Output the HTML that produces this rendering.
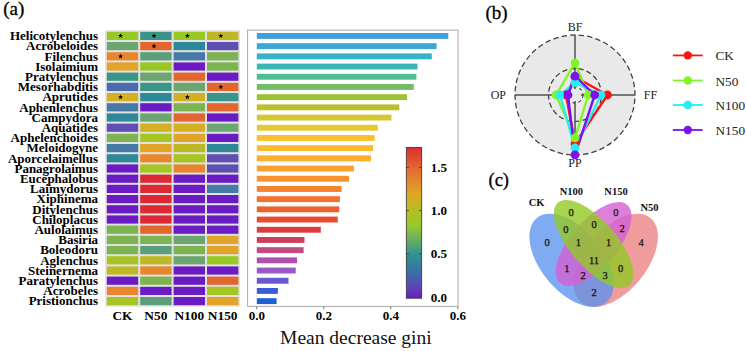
<!DOCTYPE html><html><head><meta charset="utf-8"><style>html,body{margin:0;padding:0;background:#fff;width:746px;height:351px;overflow:hidden}svg{display:block}text{font-family:"Liberation Serif",serif;}</style></head><body>
<svg width="746" height="351" viewBox="0 0 746 351">
<text x="3.2" y="15" font-size="19" fill="#000" stroke="#000" stroke-width="0.3">(a)</text>
<text x="485.4" y="18.5" font-size="19" fill="#000" stroke="#000" stroke-width="0.3">(b)</text>
<text x="488.5" y="186" font-size="18.5" fill="#000" stroke="#000" stroke-width="0.3">(c)</text>
<rect x="105.2" y="30.2" width="134.8" height="276.6" fill="#e2e2e2"/>
<rect x="106.80" y="31.80" width="31.4" height="8.2" fill="#98c822"/>
<polygon points="120.60,33.30 121.25,35.01 123.07,35.10 121.65,36.24 122.13,38.00 120.60,37.00 119.07,38.00 119.55,36.24 118.13,35.10 119.95,35.01" fill="#000"/>
<rect x="140.20" y="31.80" width="31.4" height="8.2" fill="#3a9488"/>
<polygon points="154.00,33.30 154.65,35.01 156.47,35.10 155.05,36.24 155.53,38.00 154.00,37.00 152.47,38.00 152.95,36.24 151.53,35.10 153.35,35.01" fill="#000"/>
<rect x="173.60" y="31.80" width="31.4" height="8.2" fill="#98c822"/>
<polygon points="187.40,33.30 188.05,35.01 189.87,35.10 188.45,36.24 188.93,38.00 187.40,37.00 185.87,38.00 186.35,36.24 184.93,35.10 186.75,35.01" fill="#000"/>
<rect x="207.00" y="31.80" width="31.4" height="8.2" fill="#beb824"/>
<polygon points="220.80,33.30 221.45,35.01 223.27,35.10 221.85,36.24 222.33,38.00 220.80,37.00 219.27,38.00 219.75,36.24 218.33,35.10 220.15,35.01" fill="#000"/>
<text x="98" y="40.10" font-size="13" font-weight="bold" text-anchor="end" fill="#000">Helicotylenchus</text>
<rect x="106.80" y="42.00" width="31.4" height="8.2" fill="#6ca66e"/>
<rect x="140.20" y="42.00" width="31.4" height="8.2" fill="#e2662e"/>
<polygon points="154.00,43.50 154.65,45.21 156.47,45.30 155.05,46.44 155.53,48.20 154.00,47.20 152.47,48.20 152.95,46.44 151.53,45.30 153.35,45.21" fill="#000"/>
<rect x="173.60" y="42.00" width="31.4" height="8.2" fill="#2f889a"/>
<rect x="207.00" y="42.00" width="31.4" height="8.2" fill="#5e50b2"/>
<text x="98" y="50.30" font-size="13" font-weight="bold" text-anchor="end" fill="#000">Acrobeloides</text>
<rect x="106.80" y="52.20" width="31.4" height="8.2" fill="#e8862e"/>
<polygon points="120.60,53.70 121.25,55.41 123.07,55.50 121.65,56.64 122.13,58.40 120.60,57.40 119.07,58.40 119.55,56.64 118.13,55.50 119.95,55.41" fill="#000"/>
<rect x="140.20" y="52.20" width="31.4" height="8.2" fill="#5a9e7a"/>
<rect x="173.60" y="52.20" width="31.4" height="8.2" fill="#4679a6"/>
<rect x="207.00" y="52.20" width="31.4" height="8.2" fill="#7cb452"/>
<text x="98" y="60.50" font-size="13" font-weight="bold" text-anchor="end" fill="#000">Filenchus</text>
<rect x="106.80" y="62.40" width="31.4" height="8.2" fill="#e2a426"/>
<rect x="140.20" y="62.40" width="31.4" height="8.2" fill="#98c822"/>
<rect x="173.60" y="62.40" width="31.4" height="8.2" fill="#6a1bc4"/>
<rect x="207.00" y="62.40" width="31.4" height="8.2" fill="#7cb452"/>
<text x="98" y="70.70" font-size="13" font-weight="bold" text-anchor="end" fill="#000">Isolaimium</text>
<rect x="106.80" y="72.60" width="31.4" height="8.2" fill="#3a9488"/>
<rect x="140.20" y="72.60" width="31.4" height="8.2" fill="#6ca66e"/>
<rect x="173.60" y="72.60" width="31.4" height="8.2" fill="#e2662e"/>
<rect x="207.00" y="72.60" width="31.4" height="8.2" fill="#6a1bc4"/>
<text x="98" y="80.90" font-size="13" font-weight="bold" text-anchor="end" fill="#000">Pratylenchus</text>
<rect x="106.80" y="82.80" width="31.4" height="8.2" fill="#4a6aae"/>
<rect x="140.20" y="82.80" width="31.4" height="8.2" fill="#3a9488"/>
<rect x="173.60" y="82.80" width="31.4" height="8.2" fill="#6ca66e"/>
<rect x="207.00" y="82.80" width="31.4" height="8.2" fill="#e2662e"/>
<polygon points="220.80,84.30 221.45,86.01 223.27,86.10 221.85,87.24 222.33,89.00 220.80,88.00 219.27,89.00 219.75,87.24 218.33,86.10 220.15,86.01" fill="#000"/>
<text x="98" y="91.10" font-size="13" font-weight="bold" text-anchor="end" fill="#000">Mesorhabditis</text>
<rect x="106.80" y="93.00" width="31.4" height="8.2" fill="#d2b022"/>
<polygon points="120.60,94.50 121.25,96.21 123.07,96.30 121.65,97.44 122.13,99.20 120.60,98.20 119.07,99.20 119.55,97.44 118.13,96.30 119.95,96.21" fill="#000"/>
<rect x="140.20" y="93.00" width="31.4" height="8.2" fill="#2f889a"/>
<rect x="173.60" y="93.00" width="31.4" height="8.2" fill="#d2b022"/>
<polygon points="187.40,94.50 188.05,96.21 189.87,96.30 188.45,97.44 188.93,99.20 187.40,98.20 185.87,99.20 186.35,97.44 184.93,96.30 186.75,96.21" fill="#000"/>
<rect x="207.00" y="93.00" width="31.4" height="8.2" fill="#3a9488"/>
<text x="98" y="101.30" font-size="13" font-weight="bold" text-anchor="end" fill="#000">Aprutides</text>
<rect x="106.80" y="103.20" width="31.4" height="8.2" fill="#4679a6"/>
<rect x="140.20" y="103.20" width="31.4" height="8.2" fill="#6a1bc4"/>
<rect x="173.60" y="103.20" width="31.4" height="8.2" fill="#7cb452"/>
<rect x="207.00" y="103.20" width="31.4" height="8.2" fill="#e2662e"/>
<text x="98" y="111.50" font-size="13" font-weight="bold" text-anchor="end" fill="#000">Aphenlenchus</text>
<rect x="106.80" y="113.40" width="31.4" height="8.2" fill="#2f889a"/>
<rect x="140.20" y="113.40" width="31.4" height="8.2" fill="#6ca66e"/>
<rect x="173.60" y="113.40" width="31.4" height="8.2" fill="#e2662e"/>
<rect x="207.00" y="113.40" width="31.4" height="8.2" fill="#6a1bc4"/>
<text x="98" y="121.70" font-size="13" font-weight="bold" text-anchor="end" fill="#000">Campydora</text>
<rect x="106.80" y="123.60" width="31.4" height="8.2" fill="#5e50b2"/>
<rect x="140.20" y="123.60" width="31.4" height="8.2" fill="#d2b022"/>
<rect x="173.60" y="123.60" width="31.4" height="8.2" fill="#d2b022"/>
<rect x="207.00" y="123.60" width="31.4" height="8.2" fill="#6ca66e"/>
<text x="98" y="131.90" font-size="13" font-weight="bold" text-anchor="end" fill="#000">Aquatides</text>
<rect x="106.80" y="133.80" width="31.4" height="8.2" fill="#7cb452"/>
<rect x="140.20" y="133.80" width="31.4" height="8.2" fill="#a6c422"/>
<rect x="173.60" y="133.80" width="31.4" height="8.2" fill="#e2a426"/>
<rect x="207.00" y="133.80" width="31.4" height="8.2" fill="#6a1bc4"/>
<text x="98" y="142.10" font-size="13" font-weight="bold" text-anchor="end" fill="#000">Aphelenchoides</text>
<rect x="106.80" y="144.00" width="31.4" height="8.2" fill="#4679a6"/>
<rect x="140.20" y="144.00" width="31.4" height="8.2" fill="#e2a426"/>
<rect x="173.60" y="144.00" width="31.4" height="8.2" fill="#beb824"/>
<rect x="207.00" y="144.00" width="31.4" height="8.2" fill="#2f889a"/>
<text x="98" y="152.30" font-size="13" font-weight="bold" text-anchor="end" fill="#000">Meloidogyne</text>
<rect x="106.80" y="154.20" width="31.4" height="8.2" fill="#2f889a"/>
<rect x="140.20" y="154.20" width="31.4" height="8.2" fill="#e8862e"/>
<rect x="173.60" y="154.20" width="31.4" height="8.2" fill="#a6c422"/>
<rect x="207.00" y="154.20" width="31.4" height="8.2" fill="#5e50b2"/>
<text x="98" y="162.50" font-size="13" font-weight="bold" text-anchor="end" fill="#000">Aporcelaimellus</text>
<rect x="106.80" y="164.40" width="31.4" height="8.2" fill="#6a1bc4"/>
<rect x="140.20" y="164.40" width="31.4" height="8.2" fill="#a6c422"/>
<rect x="173.60" y="164.40" width="31.4" height="8.2" fill="#e8862e"/>
<rect x="207.00" y="164.40" width="31.4" height="8.2" fill="#5e50b2"/>
<text x="98" y="172.70" font-size="13" font-weight="bold" text-anchor="end" fill="#000">Panagrolaimus</text>
<rect x="106.80" y="174.60" width="31.4" height="8.2" fill="#6a1bc4"/>
<rect x="140.20" y="174.60" width="31.4" height="8.2" fill="#de2834"/>
<rect x="173.60" y="174.60" width="31.4" height="8.2" fill="#6a1bc4"/>
<rect x="207.00" y="174.60" width="31.4" height="8.2" fill="#6a1bc4"/>
<text x="98" y="182.90" font-size="13" font-weight="bold" text-anchor="end" fill="#000">Eucephalobus</text>
<rect x="106.80" y="184.80" width="31.4" height="8.2" fill="#6a1bc4"/>
<rect x="140.20" y="184.80" width="31.4" height="8.2" fill="#de2834"/>
<rect x="173.60" y="184.80" width="31.4" height="8.2" fill="#6a1bc4"/>
<rect x="207.00" y="184.80" width="31.4" height="8.2" fill="#4679a6"/>
<text x="98" y="193.10" font-size="13" font-weight="bold" text-anchor="end" fill="#000">Laimydorus</text>
<rect x="106.80" y="195.00" width="31.4" height="8.2" fill="#6a1bc4"/>
<rect x="140.20" y="195.00" width="31.4" height="8.2" fill="#de2834"/>
<rect x="173.60" y="195.00" width="31.4" height="8.2" fill="#6a1bc4"/>
<rect x="207.00" y="195.00" width="31.4" height="8.2" fill="#6a1bc4"/>
<text x="98" y="203.30" font-size="13" font-weight="bold" text-anchor="end" fill="#000">Xiphinema</text>
<rect x="106.80" y="205.20" width="31.4" height="8.2" fill="#6a1bc4"/>
<rect x="140.20" y="205.20" width="31.4" height="8.2" fill="#de2834"/>
<rect x="173.60" y="205.20" width="31.4" height="8.2" fill="#6a1bc4"/>
<rect x="207.00" y="205.20" width="31.4" height="8.2" fill="#6a1bc4"/>
<text x="98" y="213.50" font-size="13" font-weight="bold" text-anchor="end" fill="#000">Ditylenchus</text>
<rect x="106.80" y="215.40" width="31.4" height="8.2" fill="#6a1bc4"/>
<rect x="140.20" y="215.40" width="31.4" height="8.2" fill="#de2834"/>
<rect x="173.60" y="215.40" width="31.4" height="8.2" fill="#6a1bc4"/>
<rect x="207.00" y="215.40" width="31.4" height="8.2" fill="#6a1bc4"/>
<text x="98" y="223.70" font-size="13" font-weight="bold" text-anchor="end" fill="#000">Chiloplacus</text>
<rect x="106.80" y="225.60" width="31.4" height="8.2" fill="#7cb452"/>
<rect x="140.20" y="225.60" width="31.4" height="8.2" fill="#e2662e"/>
<rect x="173.60" y="225.60" width="31.4" height="8.2" fill="#6a1bc4"/>
<rect x="207.00" y="225.60" width="31.4" height="8.2" fill="#6a1bc4"/>
<text x="98" y="233.90" font-size="13" font-weight="bold" text-anchor="end" fill="#000">Aulolaimus</text>
<rect x="106.80" y="235.80" width="31.4" height="8.2" fill="#7cb452"/>
<rect x="140.20" y="235.80" width="31.4" height="8.2" fill="#7cb452"/>
<rect x="173.60" y="235.80" width="31.4" height="8.2" fill="#6ca66e"/>
<rect x="207.00" y="235.80" width="31.4" height="8.2" fill="#e2a426"/>
<text x="98" y="244.10" font-size="13" font-weight="bold" text-anchor="end" fill="#000">Basiria</text>
<rect x="106.80" y="246.00" width="31.4" height="8.2" fill="#7cb452"/>
<rect x="140.20" y="246.00" width="31.4" height="8.2" fill="#5a9e7a"/>
<rect x="173.60" y="246.00" width="31.4" height="8.2" fill="#7cb452"/>
<rect x="207.00" y="246.00" width="31.4" height="8.2" fill="#e2a426"/>
<text x="98" y="254.30" font-size="13" font-weight="bold" text-anchor="end" fill="#000">Boleodoru</text>
<rect x="106.80" y="256.20" width="31.4" height="8.2" fill="#a6c422"/>
<rect x="140.20" y="256.20" width="31.4" height="8.2" fill="#beb824"/>
<rect x="173.60" y="256.20" width="31.4" height="8.2" fill="#6ca66e"/>
<rect x="207.00" y="256.20" width="31.4" height="8.2" fill="#98c822"/>
<text x="98" y="264.50" font-size="13" font-weight="bold" text-anchor="end" fill="#000">Aglenchus</text>
<rect x="106.80" y="266.40" width="31.4" height="8.2" fill="#beb824"/>
<rect x="140.20" y="266.40" width="31.4" height="8.2" fill="#e8862e"/>
<rect x="173.60" y="266.40" width="31.4" height="8.2" fill="#6a1bc4"/>
<rect x="207.00" y="266.40" width="31.4" height="8.2" fill="#6a1bc4"/>
<text x="98" y="274.70" font-size="13" font-weight="bold" text-anchor="end" fill="#000">Steinernema</text>
<rect x="106.80" y="276.60" width="31.4" height="8.2" fill="#6a1bc4"/>
<rect x="140.20" y="276.60" width="31.4" height="8.2" fill="#7cb452"/>
<rect x="173.60" y="276.60" width="31.4" height="8.2" fill="#6a1bc4"/>
<rect x="207.00" y="276.60" width="31.4" height="8.2" fill="#e2662e"/>
<text x="98" y="284.90" font-size="13" font-weight="bold" text-anchor="end" fill="#000">Paratylenchus</text>
<rect x="106.80" y="286.80" width="31.4" height="8.2" fill="#e8862e"/>
<rect x="140.20" y="286.80" width="31.4" height="8.2" fill="#6a1bc4"/>
<rect x="173.60" y="286.80" width="31.4" height="8.2" fill="#6a1bc4"/>
<rect x="207.00" y="286.80" width="31.4" height="8.2" fill="#a6c422"/>
<text x="98" y="295.10" font-size="13" font-weight="bold" text-anchor="end" fill="#000">Acrobeles</text>
<rect x="106.80" y="297.00" width="31.4" height="8.2" fill="#a6c422"/>
<rect x="140.20" y="297.00" width="31.4" height="8.2" fill="#5a9e7a"/>
<rect x="173.60" y="297.00" width="31.4" height="8.2" fill="#6a1bc4"/>
<rect x="207.00" y="297.00" width="31.4" height="8.2" fill="#e2a426"/>
<text x="98" y="305.30" font-size="13" font-weight="bold" text-anchor="end" fill="#000">Pristionchus</text>
<text x="122.50" y="320.2" font-size="13.4" font-weight="bold" text-anchor="middle" fill="#000">CK</text>
<text x="155.90" y="320.2" font-size="13.4" font-weight="bold" text-anchor="middle" fill="#000">N50</text>
<text x="189.30" y="320.2" font-size="13.4" font-weight="bold" text-anchor="middle" fill="#000">N100</text>
<text x="222.70" y="320.2" font-size="13.4" font-weight="bold" text-anchor="middle" fill="#000">N150</text>
<rect x="247.6" y="30.1" width="210.4" height="276.3" fill="none" stroke="#a8a8a8" stroke-width="1"/>
<rect x="256.8" y="33.00" width="191.50" height="5.9" fill="#3fa0dc"/>
<rect x="256.8" y="43.20" width="179.80" height="5.9" fill="#3aa9d2"/>
<rect x="256.8" y="53.40" width="175.00" height="5.9" fill="#37b1c6"/>
<rect x="256.8" y="63.60" width="160.70" height="5.9" fill="#38b8b4"/>
<rect x="256.8" y="73.80" width="159.60" height="5.9" fill="#4cbd94"/>
<rect x="256.8" y="84.00" width="157.00" height="5.9" fill="#72bd66"/>
<rect x="256.8" y="94.20" width="150.20" height="5.9" fill="#9cc036"/>
<rect x="256.8" y="104.40" width="142.50" height="5.9" fill="#bcc02c"/>
<rect x="256.8" y="114.60" width="134.60" height="5.9" fill="#d6c632"/>
<rect x="256.8" y="124.80" width="121.00" height="5.9" fill="#e4c830"/>
<rect x="256.8" y="135.00" width="117.90" height="5.9" fill="#fcc02e"/>
<rect x="256.8" y="145.20" width="116.20" height="5.9" fill="#fcb82e"/>
<rect x="256.8" y="155.40" width="114.20" height="5.9" fill="#fcac2e"/>
<rect x="256.8" y="165.60" width="97.10" height="5.9" fill="#faa02e"/>
<rect x="256.8" y="175.80" width="92.20" height="5.9" fill="#f8922e"/>
<rect x="256.8" y="186.00" width="84.80" height="5.9" fill="#f6822e"/>
<rect x="256.8" y="196.20" width="83.10" height="5.9" fill="#f4722e"/>
<rect x="256.8" y="206.40" width="82.50" height="5.9" fill="#ee6230"/>
<rect x="256.8" y="216.60" width="80.90" height="5.9" fill="#e84a32"/>
<rect x="256.8" y="226.80" width="64.00" height="5.9" fill="#de3c3c"/>
<rect x="256.8" y="237.00" width="47.70" height="5.9" fill="#d03e5a"/>
<rect x="256.8" y="247.20" width="46.80" height="5.9" fill="#c44a84"/>
<rect x="256.8" y="257.40" width="40.20" height="5.9" fill="#b050ae"/>
<rect x="256.8" y="267.60" width="38.90" height="5.9" fill="#9858cc"/>
<rect x="256.8" y="277.80" width="31.70" height="5.9" fill="#6a58d2"/>
<rect x="256.8" y="288.00" width="21.10" height="5.9" fill="#3c5cd8"/>
<rect x="256.8" y="298.20" width="19.80" height="5.9" fill="#1a62d4"/>
<line x1="256.8" y1="306.4" x2="256.8" y2="309.2" stroke="#777" stroke-width="1"/>
<text x="256.8" y="320.4" font-size="13" font-weight="bold" text-anchor="middle" fill="#000">0.0</text>
<line x1="323.8" y1="306.4" x2="323.8" y2="309.2" stroke="#777" stroke-width="1"/>
<text x="323.8" y="320.4" font-size="13" font-weight="bold" text-anchor="middle" fill="#000">0.2</text>
<line x1="390.8" y1="306.4" x2="390.8" y2="309.2" stroke="#777" stroke-width="1"/>
<text x="390.8" y="320.4" font-size="13" font-weight="bold" text-anchor="middle" fill="#000">0.4</text>
<line x1="457.8" y1="306.4" x2="457.8" y2="309.2" stroke="#777" stroke-width="1"/>
<text x="457.8" y="320.4" font-size="13" font-weight="bold" text-anchor="middle" fill="#000">0.6</text>
<text x="280.1" y="343.8" font-size="19.5" fill="#111">Mean decrease gini</text>
<defs><linearGradient id="cb" x1="0" y1="1" x2="0" y2="0"><stop offset="0" stop-color="#6a1bc4"/><stop offset="0.06" stop-color="#6040b8"/><stop offset="0.17" stop-color="#3a70a8"/><stop offset="0.287" stop-color="#2e9290"/><stop offset="0.37" stop-color="#60a868"/><stop offset="0.476" stop-color="#94c830"/><stop offset="0.573" stop-color="#b4c020"/><stop offset="0.70" stop-color="#e0a428"/><stop offset="0.86" stop-color="#e46a30"/><stop offset="1" stop-color="#dc2c34"/></linearGradient></defs>
<rect x="406.3" y="147.4" width="15.4" height="150.8" fill="url(#cb)" stroke="#333" stroke-width="0.8"/>
<text x="430.8" y="301.50" font-size="13" font-weight="bold" fill="#000">0.0</text>
<line x1="406.3" y1="253.80" x2="408.8" y2="253.80" stroke="#333" stroke-width="0.8"/>
<line x1="419.2" y1="253.80" x2="421.7" y2="253.80" stroke="#333" stroke-width="0.8"/>
<text x="430.8" y="258.30" font-size="13" font-weight="bold" fill="#000">0.5</text>
<line x1="406.3" y1="210.60" x2="408.8" y2="210.60" stroke="#333" stroke-width="0.8"/>
<line x1="419.2" y1="210.60" x2="421.7" y2="210.60" stroke="#333" stroke-width="0.8"/>
<text x="430.8" y="215.10" font-size="13" font-weight="bold" fill="#000">1.0</text>
<line x1="406.3" y1="167.40" x2="408.8" y2="167.40" stroke="#333" stroke-width="0.8"/>
<line x1="419.2" y1="167.40" x2="421.7" y2="167.40" stroke="#333" stroke-width="0.8"/>
<text x="430.8" y="171.90" font-size="13" font-weight="bold" fill="#000">1.5</text>
<circle cx="575" cy="95" r="60" fill="#e9e9e9" stroke="#444" stroke-width="1.3" pathLength="44" stroke-dasharray="0.64 0.36" stroke-dashoffset="0.58"/>
<circle cx="575" cy="95" r="26.5" fill="none" stroke="#444" stroke-width="1.3" pathLength="20" stroke-dasharray="0.64 0.36" stroke-dashoffset="0.58"/>
<circle cx="575" cy="95" r="8" fill="none" stroke="#444" stroke-width="1.1" stroke-dasharray="3 3"/>
<line x1="575" y1="89" x2="575" y2="35" stroke="#505050" stroke-width="1.5"/>
<line x1="581" y1="95" x2="635" y2="95" stroke="#505050" stroke-width="1.5"/>
<line x1="575" y1="101" x2="575" y2="155" stroke="#505050" stroke-width="1.5"/>
<line x1="569" y1="95" x2="515" y2="95" stroke="#505050" stroke-width="1.5"/>
<text x="575" y="30.7" font-size="12" text-anchor="middle" fill="#222">BF</text>
<text x="506" y="99.4" font-size="12" text-anchor="end" fill="#222">OP</text>
<text x="643.8" y="99.4" font-size="12" fill="#222">FF</text>
<text x="575" y="167" font-size="12" text-anchor="middle" fill="#222">PP</text>
<polygon points="575.00,77.00 607.50,95.00 575.00,143.70 566.00,95.00" fill="none" stroke="#ff1414" stroke-width="2.4" stroke-linejoin="round"/>
<polygon points="575.00,63.00 588.30,95.00 575.00,137.80 556.00,95.00" fill="none" stroke="#80f424" stroke-width="2.4" stroke-linejoin="round"/>
<polygon points="575.00,82.60 601.00,95.00 575.00,148.00 560.10,95.00" fill="none" stroke="#22eef6" stroke-width="2.4" stroke-linejoin="round"/>
<polygon points="575.00,76.20 594.70,95.00 575.00,154.80 568.00,95.00" fill="none" stroke="#7a12ee" stroke-width="2.4" stroke-linejoin="round"/>
<circle cx="575.00" cy="77.00" r="4.4" fill="#ff1414"/>
<circle cx="607.50" cy="95.00" r="4.4" fill="#ff1414"/>
<circle cx="575.00" cy="143.70" r="4.4" fill="#ff1414"/>
<circle cx="566.00" cy="95.00" r="4.4" fill="#ff1414"/>
<circle cx="575.00" cy="63.00" r="4.4" fill="#80f424"/>
<circle cx="588.30" cy="95.00" r="4.4" fill="#80f424"/>
<circle cx="575.00" cy="137.80" r="4.4" fill="#80f424"/>
<circle cx="556.00" cy="95.00" r="4.4" fill="#80f424"/>
<circle cx="575.00" cy="82.60" r="4.4" fill="#22eef6"/>
<circle cx="601.00" cy="95.00" r="4.4" fill="#22eef6"/>
<circle cx="575.00" cy="148.00" r="4.4" fill="#22eef6"/>
<circle cx="560.10" cy="95.00" r="4.4" fill="#22eef6"/>
<circle cx="575.00" cy="76.20" r="4.4" fill="#7a12ee"/>
<circle cx="594.70" cy="95.00" r="4.4" fill="#7a12ee"/>
<circle cx="575.00" cy="154.80" r="4.4" fill="#7a12ee"/>
<circle cx="568.00" cy="95.00" r="4.4" fill="#7a12ee"/>
<line x1="672.8" y1="55.4" x2="702.7" y2="55.4" stroke="#ff1414" stroke-width="1.8"/>
<circle cx="687.8" cy="55.4" r="4.2" fill="#ff1414"/>
<text x="715.5" y="60.4" font-size="13.3" fill="#222">CK</text>
<line x1="672.8" y1="80.5" x2="702.7" y2="80.5" stroke="#80f424" stroke-width="1.8"/>
<circle cx="687.8" cy="80.5" r="4.2" fill="#80f424"/>
<text x="715.5" y="85.5" font-size="13.3" fill="#222">N50</text>
<line x1="672.8" y1="105" x2="702.7" y2="105" stroke="#22eef6" stroke-width="1.8"/>
<circle cx="687.8" cy="105" r="4.2" fill="#22eef6"/>
<text x="715.5" y="110.0" font-size="13.3" fill="#222">N100</text>
<line x1="672.8" y1="130" x2="702.7" y2="130" stroke="#7a12ee" stroke-width="1.8"/>
<circle cx="687.8" cy="130" r="4.2" fill="#7a12ee"/>
<text x="715.5" y="135.0" font-size="13.3" fill="#222">N150</text>
<g transform="translate(519.8,337.2) scale(147.7,-163.6)">
<ellipse cx="0.65" cy="0.47" rx="0.35" ry="0.2" transform="rotate(45 0.65 0.47)" fill="#e65a5a" fill-opacity="0.6"/>
<ellipse cx="0.35" cy="0.47" rx="0.35" ry="0.2" transform="rotate(135 0.35 0.47)" fill="#5c92ee" fill-opacity="0.78"/>
<ellipse cx="0.5" cy="0.57" rx="0.33" ry="0.15" transform="rotate(45 0.5 0.57)" fill="#d360d3" fill-opacity="0.8"/>
<ellipse cx="0.5" cy="0.57" rx="0.35" ry="0.15" transform="rotate(135 0.5 0.57)" fill="#92c924" fill-opacity="0.8"/>
</g>
<text x="547.0" y="245.6" font-size="10.5" text-anchor="middle" fill="#111" stroke="#111" stroke-width="0.25">0</text>
<text x="571.1" y="215.8" font-size="10.5" text-anchor="middle" fill="#111" stroke="#111" stroke-width="0.25">0</text>
<text x="565.8" y="232.7" font-size="10.5" text-anchor="middle" fill="#111" stroke="#111" stroke-width="0.25">0</text>
<text x="594.0" y="228.0" font-size="10.5" text-anchor="middle" fill="#111" stroke="#111" stroke-width="0.25">0</text>
<text x="615.9" y="215.8" font-size="10.5" text-anchor="middle" fill="#111" stroke="#111" stroke-width="0.25">0</text>
<text x="622.2" y="231.5" font-size="10.5" text-anchor="middle" fill="#111" stroke="#111" stroke-width="0.25">2</text>
<text x="641.0" y="246.2" font-size="10.5" text-anchor="middle" fill="#111" stroke="#111" stroke-width="0.25">4</text>
<text x="578.3" y="246.2" font-size="10.5" text-anchor="middle" fill="#111" stroke="#111" stroke-width="0.25">1</text>
<text x="608.7" y="246.2" font-size="10.5" text-anchor="middle" fill="#111" stroke="#111" stroke-width="0.25">1</text>
<text x="594.0" y="264.4" font-size="10.5" text-anchor="middle" fill="#111" stroke="#111" stroke-width="0.25">11</text>
<text x="566.8" y="272.2" font-size="10.5" text-anchor="middle" fill="#111" stroke="#111" stroke-width="0.25">1</text>
<text x="583.0" y="279.1" font-size="10.5" text-anchor="middle" fill="#111" stroke="#111" stroke-width="0.25">2</text>
<text x="605.0" y="279.1" font-size="10.5" text-anchor="middle" fill="#111" stroke="#111" stroke-width="0.25">3</text>
<text x="620.6" y="272.2" font-size="10.5" text-anchor="middle" fill="#111" stroke="#111" stroke-width="0.25">0</text>
<text x="594.0" y="295.7" font-size="10.5" text-anchor="middle" fill="#111" stroke="#111" stroke-width="0.25">2</text>
<text x="536.6" y="206.3" font-size="10.5" font-weight="bold" text-anchor="middle" fill="#111">CK</text>
<text x="571.3" y="195.2" font-size="10.5" font-weight="bold" text-anchor="middle" fill="#111">N100</text>
<text x="616" y="195.2" font-size="10.5" font-weight="bold" text-anchor="middle" fill="#111">N150</text>
<text x="649.5" y="210.8" font-size="10.5" font-weight="bold" text-anchor="middle" fill="#111">N50</text>
</svg></body></html>
